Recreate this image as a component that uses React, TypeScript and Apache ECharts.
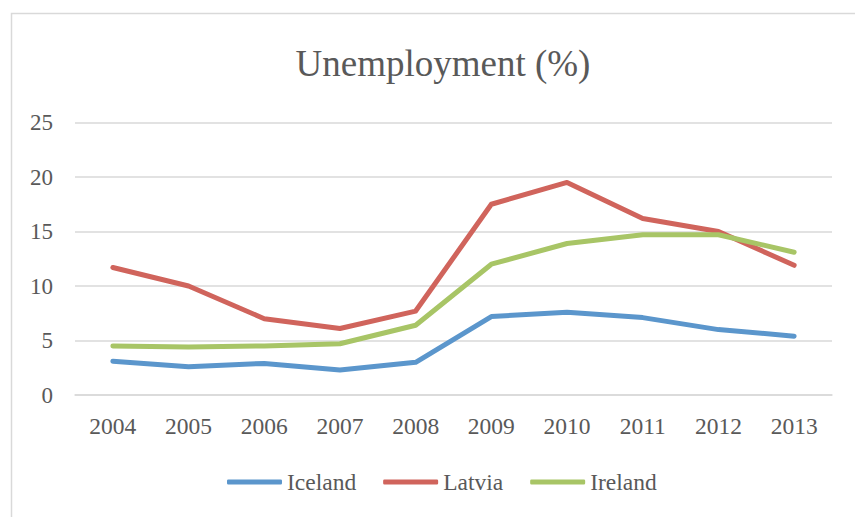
import React, { useEffect, useRef } from "react";
import * as echarts from "echarts";

const years = ["2004", "2005", "2006", "2007", "2008", "2009", "2010", "2011", "2012", "2013"];
const iceland = [3.1, 2.6, 2.9, 2.3, 3.0, 7.2, 7.6, 7.1, 6.0, 5.4];
const latvia = [11.7, 10.0, 7.0, 6.1, 7.7, 17.5, 19.5, 16.2, 15.0, 11.9];
const ireland = [4.5, 4.4, 4.5, 4.7, 6.4, 12.0, 13.9, 14.7, 14.7, 13.1];
const seriesNames = ["Iceland", "Latvia", "Ireland"];
const colors = ["#5b96cc", "#d0645c", "#a8c566"];

const FONT = "'Liberation Serif', 'Times New Roman', serif";
const TXT = "#595959";

export default function App() {
  const ref = useRef<HTMLDivElement>(null);
  useEffect(() => {
    const chart = echarts.init(ref.current!, null, { renderer: "svg" });
    const data = [iceland, latvia, ireland];
    chart.setOption({
      animation: false,
      backgroundColor: "#ffffff",
      color: colors,
      graphic: [
        {
          type: "rect",
          shape: { x: 11.5, y: 13.5, width: 1000, height: 1000 },
          style: { fill: "none", stroke: "#d9d9d9", lineWidth: 1.5 },
          silent: true,
        },
      ],
      title: {
        text: "Unemployment (%)",
        left: 438,
        top: 40,
        textAlign: "center",
        textStyle: { fontFamily: FONT, fontSize: 37, fontWeight: "normal", color: TXT },
      },
      legend: {
        top: 470,
        left: 227,
        padding: 0,
        itemWidth: 55,
        itemHeight: 5,
        itemGap: 27,
        icon: "roundRect",
        textStyle: { fontFamily: FONT, fontSize: 23.5, color: TXT },
        data: seriesNames,
      },
      grid: { left: 75, right: 23, top: 122.5, bottom: 122, containLabel: false },
      xAxis: {
        type: "category",
        data: years,
        boundaryGap: true,
        axisLine: { show: true, lineStyle: { color: "#d9d9d9", width: 1.5 } },
        axisTick: { show: false },
        axisLabel: { fontFamily: FONT, fontSize: 23.5, color: TXT, margin: 19 },
      },
      yAxis: {
        type: "value",
        min: 0,
        max: 25,
        interval: 5,
        axisLine: { show: false },
        axisTick: { show: false },
        splitLine: { lineStyle: { color: "#d9d9d9", width: 1.5 } },
        axisLabel: { fontFamily: FONT, fontSize: 23, color: TXT, margin: 22 },
      },
      series: seriesNames.map((name, i) => ({
        name,
        type: "line",
        data: data[i],
        symbol: "none",
        lineStyle: { width: 5, cap: "round", join: "round", color: colors[i] },
        itemStyle: { color: colors[i] },
      })),
    });
    return () => chart.dispose();
  }, []);
  return (
    <div
      ref={ref}
      style={{ position: "fixed", left: 0, top: 0, width: 855, height: 517 }}
    />
  );
}
